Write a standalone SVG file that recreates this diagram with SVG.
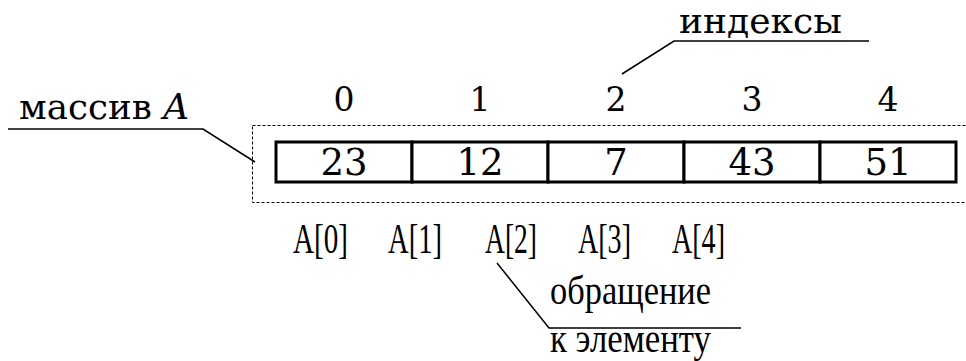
<svg xmlns="http://www.w3.org/2000/svg" width="966" height="361" viewBox="0 0 966 361">
<rect width="966" height="361" fill="#fff"/>
<g id="frame"><rect x="252.5" y="125.5" width="720" height="77" fill="none" stroke="#000" stroke-width="1" stroke-dasharray="3,2"/></g>
<g id="array">
<g fill="#fff" stroke="#000" stroke-width="3">
<rect x="276" y="142" width="136" height="40"/>
<rect x="412" y="142" width="136" height="40"/>
<rect x="548" y="142" width="136" height="40"/>
<rect x="684" y="142" width="136" height="40"/>
<rect x="820" y="142" width="136" height="40"/>
</g>
<text x="344" y="175" font-family="DejaVu Serif" font-size="37" text-anchor="middle">23</text>
<text x="480" y="175" font-family="DejaVu Serif" font-size="37" text-anchor="middle">12</text>
<text x="616" y="175" font-family="DejaVu Serif" font-size="37" text-anchor="middle">7</text>
<text x="752" y="175" font-family="DejaVu Serif" font-size="37" text-anchor="middle">43</text>
<text x="888" y="175" font-family="DejaVu Serif" font-size="37" text-anchor="middle">51</text>
</g>
<g id="indices">
<text x="344" y="111" font-family="DejaVu Serif" font-size="33" text-anchor="middle">0</text>
<text x="480" y="111" font-family="DejaVu Serif" font-size="33" text-anchor="middle">1</text>
<text x="616" y="111" font-family="DejaVu Serif" font-size="33" text-anchor="middle">2</text>
<text x="752" y="111" font-family="DejaVu Serif" font-size="33" text-anchor="middle">3</text>
<text x="888" y="111" font-family="DejaVu Serif" font-size="33" text-anchor="middle">4</text>
</g>
<g id="access">
<text x="293" y="253" font-family="Liberation Serif" font-size="42" textLength="55" lengthAdjust="spacingAndGlyphs">A[0]</text>
<text x="388" y="253" font-family="Liberation Serif" font-size="42" textLength="54" lengthAdjust="spacingAndGlyphs">A[1]</text>
<text x="485" y="253" font-family="Liberation Serif" font-size="42" textLength="52" lengthAdjust="spacingAndGlyphs">A[2]</text>
<text x="578" y="253" font-family="Liberation Serif" font-size="42" textLength="53" lengthAdjust="spacingAndGlyphs">A[3]</text>
<text x="672" y="253" font-family="Liberation Serif" font-size="42" textLength="53" lengthAdjust="spacingAndGlyphs">A[4]</text>
</g>
<g id="label-array"><text x="19" y="119" font-family="DejaVu Serif" font-size="36" textLength="170" lengthAdjust="spacingAndGlyphs">массив <tspan font-style="italic">A</tspan></text></g>
<g id="label-indices"><text x="679" y="33" font-family="DejaVu Serif" font-size="36" textLength="163" lengthAdjust="spacingAndGlyphs">индексы</text></g>
<g id="label-access">
<text x="550" y="304" font-family="Liberation Serif" font-size="41" textLength="161" lengthAdjust="spacingAndGlyphs">обращение</text>
<text x="550" y="352" font-family="Liberation Serif" font-size="41" textLength="161" lengthAdjust="spacingAndGlyphs">к элементу</text>
</g>
<g id="connectors" fill="none" stroke="#000" stroke-width="1.5">
<polyline points="8,129 203,129 255,162"/>
<polyline points="869,41 674,41 622,74"/>
<polyline points="497,263 549,328 741,328"/>
</g>
</svg>
